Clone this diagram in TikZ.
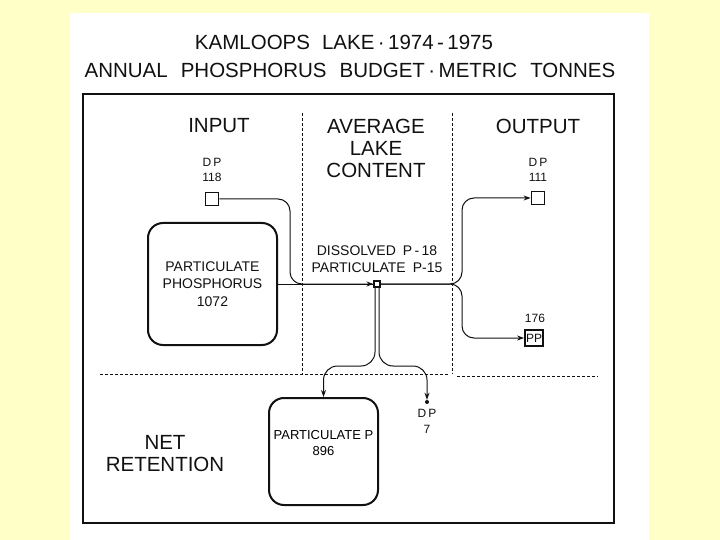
\documentclass[tikz,border=0pt]{standalone}
\usepackage{fontspec}
\setmainfont{Liberation Sans}
\usetikzlibrary{arrows.meta, positioning, calc}
\definecolor{kmPaper}{HTML}{FFFFC8}
\definecolor{kmInk}{HTML}{111111}

\begin{document}
\begin{tikzpicture}[x=1pt, y=-1pt,
    hdr/.style={font=\fontsize{20.5}{22}\selectfont, align=center, inner sep=0pt, text=kmInk},
    lbl/.style={font=\fontsize{12}{15.5}\selectfont, align=center, inner sep=0pt, text=kmInk},
    txt/.style={font=\fontsize{14}{17.5}\selectfont, align=center, inner sep=0pt, text=kmInk},
    pbox/.style={rectangle, rounded corners=15pt, draw=kmInk, line width=2pt,
      align=center, inner sep=0pt},
    dpsq/.style={rectangle, draw=kmInk, line width=1.8pt, minimum size=13pt, inner sep=0pt},
    flow/.style={draw=kmInk, line width=1pt, rounded corners=12pt},
    tip/.style={-{Stealth[length=7pt, width=5pt]}},
    divider/.style={draw=kmInk, line width=0.6pt, dash pattern=on 3pt off 2pt}]

  % page and sheet
  \fill[kmPaper] (0,0) rectangle (720,540);
  \fill[white] (70,13) rectangle (649,540);
  \useasboundingbox (0,0) rectangle (720,540);

  % titles
  \node[hdr] (title1) at (344,42)
    {KAMLOOPS\hspace{12pt}LAKE\,·\,1974\,-\,1975};
  \node[hdr] (title2) at (350,70)
    {ANNUAL\hspace{13pt}PHOSPHORUS\hspace{13pt}BUDGET\,·\,METRIC\hspace{13pt}TONNES};
  \draw[kmInk, line width=2pt] (83,94) rectangle (614,523);

  % column dividers
  \draw[divider] (302,113) -- (302,374);
  \draw[divider] (452,113) -- (452,374);
  \draw[divider] (100,374) -- (448,374);
  \draw[divider] (457,376) -- (598,376);

  % column heads
  \node[hdr] (hin) at (219,126) {INPUT};
  \node[hdr] (hlake) at (376,148) {AVERAGE\\LAKE\\CONTENT};
  \node[hdr] (hout) at (538,126) {OUTPUT};
  \node[hdr] (hnet) at (165,454) {NET\\RETENTION};

  % input
  \node[lbl] (dp118lbl) at (212,170) {D\,P\\118};
  \node[dpsq] (dp118) at (212,199) {};
  \node[pbox, minimum width=129pt, minimum height=122pt, txt]
    (ppin) at (212.5,284) {PARTICULATE\\PHOSPHORUS\\1072};

  % lake content
  \node[txt] (lakec) at (377,259)
    {DISSOLVED\hspace{7pt}P\,-\,18\\PARTICULATE\hspace{7pt}P-15};
  \node[rectangle, draw=kmInk, line width=1.2pt, minimum size=6pt, inner sep=0pt]
    (hub) at (377,284) {};

  % output
  \node[lbl] (dp111lbl) at (538,170) {D\,P\\111};
  \node[dpsq] (dp111) at (538,198) {};
  \node[lbl] (pp176) at (535,318) {176};
  \node[dpsq, minimum width=18pt, minimum height=16pt, lbl] (ppout) at (534,338) {PP};

  % net retention
  \node[pbox, minimum width=109pt, minimum height=107pt, font=\fontsize{13}{16}\selectfont]
    (retbox) at (323.5,451.5) {PARTICULATE P\\896\\[1pt]};
  \node[circle, fill=kmInk, minimum size=4pt, inner sep=0pt] (dp7dot) at (427,402) {};
  \node[lbl, below=5pt of dp7dot] (dp7lbl) {D\,P\\7};

  % flows
  \coordinate (lbend) at (290,284);
  \coordinate (rbend) at (462,284);
  \coordinate (lsplit) at (375,366);
  \coordinate (rsplit) at (379,366);
  \draw[flow, line width=0.6pt] (ppin.east) -- (hub.west);
  \draw[flow, tip] (dp118.east) -| (lbend) -- (hub.west);
  \draw[flow, tip] (hub.east) -- (rbend) |- (dp111.west);
  \draw[flow, tip] (hub.east) -- (rbend) |- (ppout.west);
  \draw[flow, tip, rounded corners=14pt] ([xshift=-2pt]hub.south) -- (lsplit) -| (retbox.north);
  \draw[flow, tip, rounded corners=14pt] ([xshift=2pt]hub.south) -- (rsplit) -| (dp7dot.north);
\end{tikzpicture}
\end{document}
